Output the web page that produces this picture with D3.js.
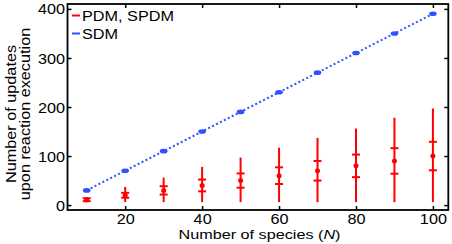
<!DOCTYPE html>
<html><head><meta charset="utf-8">
<script src="https://cdn.jsdelivr.net/npm/d3@7"></script>
<style>html,body{margin:0;padding:0;background:#fff;} svg{display:block;}</style>
</head><body>
<svg id="c" width="452" height="244"></svg>
<script>
const N = [10,20,30,40,50,60,70,80,90,100];
const sdm = [30,70,110,150,190,230,270,310,350,390];
const pdmMean = [11,20,30,40,50,60,70,80,90,100];
const pdmStd = [3,5,8.5,12,14.5,17,20,23,26,29];
const pdmMin = [6,6,6,6,6,6,6,6,6,6];
const pdmMax = [16,37,56,78,97,117,137,156,178,197];
const xTicks = [20,40,60,80,100];
const yTicks = [0,100,200,300,400];
const legendLabels = ["PDM, SPDM","SDM"];

const RED = "#ff0000", BLUE = "#2f52ff";
const FONT = "'Liberation Sans', Arial, Helvetica, sans-serif";
const FS = 14, SX = 1.16;

const svg = d3.select("#c");
const L = 67.5, R = 448.3, T = 4, B = 210;
const x = d3.scaleLinear().domain([5,104]).range([L,R]);
const y = d3.scaleLinear().domain([-10,410]).range([B,T]);

function stext(g, tx, ty, str, anchor, rot, fs, sx) {
  return g.append("text")
    .attr("transform", `translate(${tx},${ty}) rotate(${rot||0}) scale(${sx||SX},1)`)
    .attr("text-anchor", anchor || "start")
    .attr("font-family", FONT).attr("font-size", fs||FS).attr("fill", "#000")
    .text(str);
}

// axes ticks (inside)
const gl = svg.append("g").attr("transform", `translate(${L},0)`)
  .call(d3.axisLeft(y).tickValues(yTicks).tickSize(-4).tickSizeOuter(0).tickPadding(2.5));
const gb = svg.append("g").attr("transform", `translate(0,${B})`)
  .call(d3.axisBottom(x).tickValues(xTicks).tickSize(-4).tickSizeOuter(0).tickPadding(4));
const gt = svg.append("g").attr("transform", `translate(0,${T})`)
  .call(d3.axisTop(x).tickValues(xTicks).tickSize(-4).tickSizeOuter(0).tickFormat(""));
const gr = svg.append("g").attr("transform", `translate(${R},0)`)
  .call(d3.axisRight(y).tickValues(yTicks).tickSize(-4).tickSizeOuter(0).tickFormat(""));
[gl,gb,gt,gr].forEach(g => {
  g.select(".domain").remove();
  g.selectAll(".tick line").attr("stroke","#000").attr("stroke-width",1.5);
  g.selectAll("text").attr("font-family", FONT).attr("font-size", FS).attr("fill","#000");
});
gl.selectAll(".tick text").attr("x", -2.5/SX).attr("dy","0.36em").attr("transform", `scale(${SX},1)`);
gb.selectAll(".tick text").attr("dy","0.7em").attr("transform", `scale(${SX},1)`);

// SDM dotted line + markers
const line = d3.line().x((d,i)=>x(N[i])).y(d=>y(d));
svg.append("path").datum(sdm).attr("d", line)
  .attr("fill","none").attr("stroke",BLUE).attr("stroke-width",2)
  .attr("stroke-dasharray","2,2.4");
svg.selectAll(".sdm").data(sdm).enter().append("ellipse")
  .attr("cx",(d,i)=>x(N[i])).attr("cy",d=>y(d)).attr("rx",3.8).attr("ry",2.3)
  .attr("fill",BLUE);

// PDM error bars
const pg = svg.append("g");
N.forEach((n,i) => {
  const cx = x(n);
  pg.append("line").attr("x1",cx).attr("x2",cx).attr("y1",y(pdmMin[i])).attr("y2",y(pdmMax[i]))
    .attr("stroke",RED).attr("stroke-width",2);
  [pdmMean[i]+pdmStd[i], pdmMean[i]-pdmStd[i]].forEach(v => {
    pg.append("line").attr("x1",cx-4).attr("x2",cx+4).attr("y1",y(v)).attr("y2",y(v))
      .attr("stroke",RED).attr("stroke-width",2);
  });
  pg.append("circle").attr("cx",cx).attr("cy",y(pdmMean[i])).attr("r",2.5).attr("fill",RED);
});

// box
svg.append("rect").attr("x",L).attr("y",T).attr("width",R-L).attr("height",B-T)
  .attr("fill","none").attr("stroke","#000").attr("stroke-width",1.8);

// legend
const lg = svg.append("g");
[[RED,15.5,20.5],[BLUE,33.5,38.8]].forEach((c,i) => {
  lg.append("line").attr("x1",72).attr("x2",80).attr("y1",c[1]).attr("y2",c[1])
    .attr("stroke",c[0]).attr("stroke-width",2);
  stext(lg, 82, c[2], legendLabels[i], "start");
});

// axis labels
const xl = stext(svg, 259.5, 239.4, "", "middle", 0, 13.5, 1.2);
xl.append("tspan").text("Number of species (");
xl.append("tspan").attr("font-style","italic").text("N");
xl.append("tspan").text(")");
stext(svg, 16, 114, "Number of updates", "middle", -90);
stext(svg, 30, 114, "upon reaction execution", "middle", -90);
</script>
</body></html>
